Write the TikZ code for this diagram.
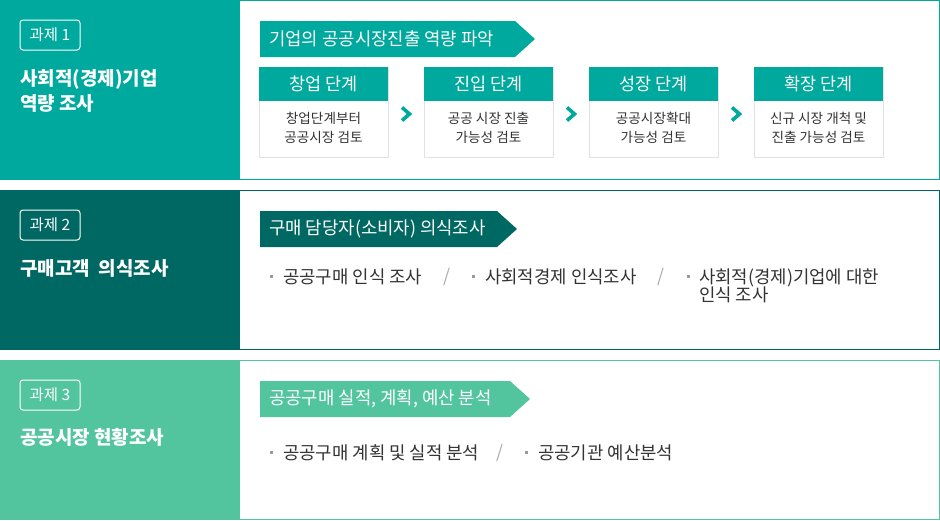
\documentclass[tikz,border=0pt]{standalone}
\usepackage{fontspec}
\setmainfont{Noto Sans CJK KR}
\definecolor{tealA}{HTML}{00A99D}
\definecolor{tealD}{HTML}{006862}
\definecolor{greenL}{HTML}{52C59E}
\definecolor{txt}{HTML}{333333}
\definecolor{boxgray}{HTML}{E2E2E2}
\definecolor{bul}{HTML}{9A9A9A}
\definecolor{slashc}{HTML}{AAAAAA}
\begin{document}
\begin{tikzpicture}[x=1pt,y=-1pt,
  badge/.style={draw=white, line width=1pt, rounded corners=3pt, minimum width=60pt, minimum height=30pt, inner sep=0pt, text=white, font=\fontsize{15.5}{17}\selectfont},
  lefttitle/.style={anchor=west, text=white, align=left, inner sep=0pt, font=\bfseries\fontsize{19}{25}\selectfont},
  bannertext/.style={anchor=west, text=white, inner sep=0pt, font=\fontsize{17.8}{20}\selectfont},
  stagebox/.style={draw=boxgray, line width=1pt, fill=white, minimum width=129pt, minimum height=90pt, inner sep=0pt},
  stagehead/.style={fill=tealA, text=white, minimum width=129pt, minimum height=34pt, inner sep=0pt, anchor=north, font=\fontsize{17.5}{19}\selectfont},
  stagebody/.style={text=txt, align=center, inner sep=0pt, font=\fontsize{13.6}{19.5}\selectfont},
  chev/.style={draw=tealA, line width=3.6pt},
  item/.style={anchor=west, text=txt, inner sep=0pt, align=left, font=\fontsize{17.8}{18.5}\selectfont},
  bulletsq/.style={fill=bul, minimum size=3pt, inner sep=0pt},
  slashmark/.style={text=slashc, inner sep=0pt, font=\fontsize{17.8}{20}\selectfont}
]
\useasboundingbox (0,0) rectangle (940,520);
% ---------- Panel 1 ----------
\draw[tealA, line width=1pt, fill=white] (0.5,0.5) rectangle (939.5,179.5);
\fill[tealA] (0,0) rectangle (240,180);
\node[badge] (bd1) at (50,35) {과제 1};
\node[lefttitle] (t1) at (20,90.5) {사회적(경제)기업\\역량 조사};
\fill[tealA] (260,21) -- (515,21) -- (535,39) -- (515,57) -- (260,57) -- cycle;
\node[bannertext] (bn1) at (269,39) {기업의 공공시장진출 역량 파악};
% stages
\node[stagebox] (s1) at (323.5,112) {};
\node[stagebox] (s2) at (488.5,112) {};
\node[stagebox] (s3) at (653.5,112) {};
\node[stagebox] (s4) at (818.5,112) {};
\node[stagehead] (h1) at (s1.north) {창업 단계};
\node[stagehead] (h2) at (s2.north) {진입 단계};
\node[stagehead] (h3) at (s3.north) {성장 단계};
\node[stagehead] (h4) at (s4.north) {확장 단계};
\node[stagebody] (b1) at (323.5,128) {창업단계부터\\공공시장 검토};
\node[stagebody] (b2) at (488.5,128) {공공 시장 진출\\가능성 검토};
\node[stagebody] (b3) at (653.5,128) {공공시장확대\\가능성 검토};
\node[stagebody] (b4) at (818.5,128) {신규 시장 개척 및\\진출 가능성 검토};
\path (s1.east) -- (s2.west) coordinate[pos=0.5] (c1);
\path (s2.east) -- (s3.west) coordinate[pos=0.5] (c2);
\path (s3.east) -- (s4.west) coordinate[pos=0.5] (c3);
\foreach \c in {c1,c2,c3}{
  \draw[chev] ([shift={(-4,-4.5)}]\c) -- ([shift={(3.5,2)}]\c) -- ([shift={(-4,8.5)}]\c);
}
% ---------- Panel 2 ----------
\draw[tealD, line width=1pt, fill=white] (0.5,190.5) rectangle (939.5,349.5);
\fill[tealD] (0,190) rectangle (240,350);
\node[badge] (bd2) at (50,225) {과제 2};
\node[lefttitle] (t2) at (20,268) {구매고객\ \ 의식조사};
\fill[tealD] (260,211) -- (497,211) -- (517,229) -- (497,247) -- (260,247) -- cycle;
\node[bannertext] (bn2) at (269,229) {구매 담당자(소비자) 의식조사};
\node[bulletsq] (q1) at (271,276) {};
\node[item] (i1) at (283,277) {공공구매 인식 조사};
\node[slashmark] (sl1) at (447,277) {/};
\node[bulletsq] (q2) at (473,276) {};
\node[item] (i2) at (485,277) {사회적경제 인식조사};
\node[slashmark] (sl2) at (661,277) {/};
\node[bulletsq] (q3) at (688,276) {};
\node[item] (i3) at (699,286) {사회적(경제)기업에 대한\\ 인식 조사};
% ---------- Panel 3 ----------
\draw[greenL, line width=1pt, fill=white] (0.5,360.5) rectangle (939.5,519.5);
\fill[greenL] (0,360) rectangle (240,520);
\node[badge] (bd3) at (50,395) {과제 3};
\node[lefttitle] (t3) at (20,437) {공공시장 현황조사};
\fill[greenL] (260,381) -- (510,381) -- (530,399) -- (510,417) -- (260,417) -- cycle;
\node[bannertext] (bn3) at (269,399) {공공구매 실적, 계획, 예산 분석};
\node[bulletsq] (q4) at (271,452) {};
\node[item] (i4) at (283,453) {공공구매 계획 및 실적 분석};
\node[slashmark] (sl3) at (500,453) {/};
\node[bulletsq] (q5) at (526,452) {};
\node[item] (i5) at (538,453) {공공기관 예산분석};
\end{tikzpicture}
\end{document}
